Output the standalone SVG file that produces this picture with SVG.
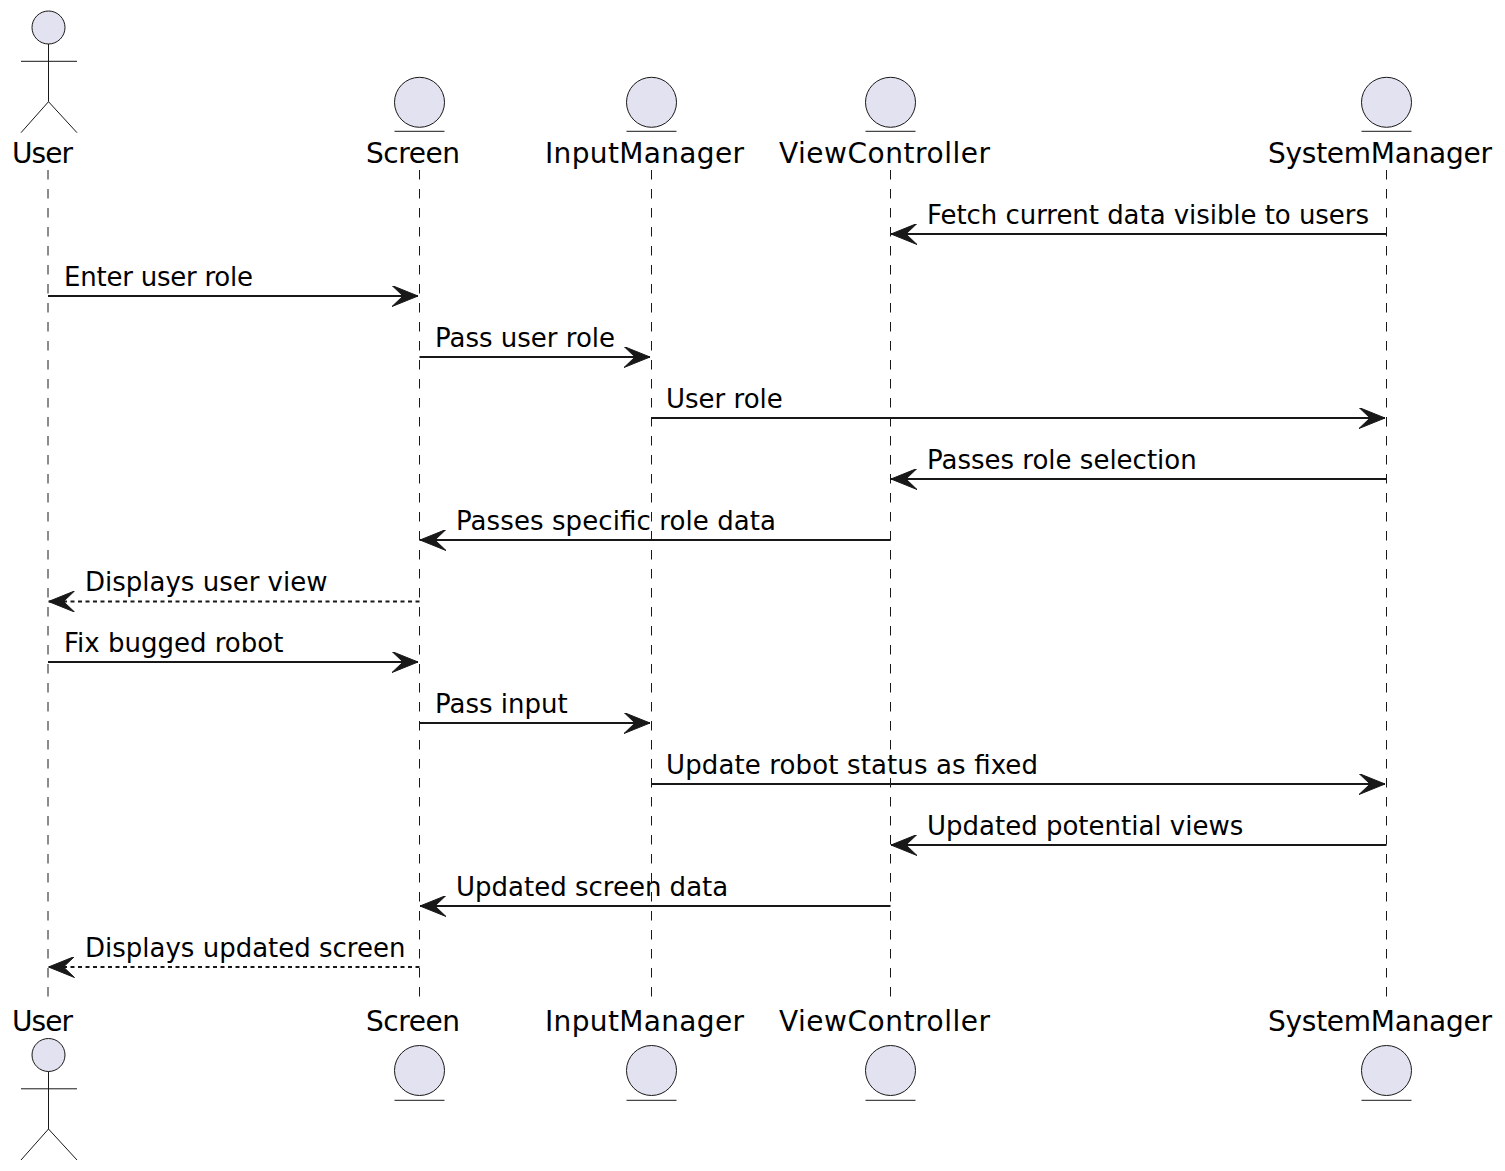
<svg xmlns="http://www.w3.org/2000/svg" width="1505" height="1171" viewBox="0 0 1505 1171">
<style>
.bg{fill:#FFFFFF}
.part{fill:#E2E2F0;stroke:#181818;stroke-width:1}
.stick{fill:none;stroke:#181818;stroke-width:1}
.life{stroke:#181818;stroke-width:1;stroke-dasharray:9.5,9.5;fill:none}
.pl{font-family:"DejaVu Sans","Liberation Sans",sans-serif;font-size:28px;fill:#000000;text-anchor:middle}
.ml{font-family:"DejaVu Sans","Liberation Sans",sans-serif;font-size:26px;fill:#000000}
.msg{stroke:#181818;stroke-width:1.8;fill:none;marker-end:url(#ah)}
.ret{stroke:#181818;stroke-width:1.8;fill:none;stroke-dasharray:4,3.5;marker-end:url(#ah)}
</style>
<defs>
<marker id="ah" markerUnits="userSpaceOnUse" viewBox="0 0 26 21" markerWidth="26" markerHeight="21" refX="26" refY="10.5" orient="auto">
<path d="M0,0 L26,10.5 L0,21 L11,10.5 Z" fill="#181818" stroke="#181818" stroke-width="1" stroke-dasharray="none"/>
</marker>
</defs>
<rect class="bg" x="0" y="0" width="1505" height="1171"/>

<g id="lifelines">
<line class="life" x1="48" y1="170" x2="48" y2="1004"/>
<line class="life" x1="419.5" y1="170" x2="419.5" y2="1004"/>
<line class="life" x1="651.5" y1="170" x2="651.5" y2="1004"/>
<line class="life" x1="890.5" y1="170" x2="890.5" y2="1004"/>
<line class="life" x1="1386.5" y1="170" x2="1386.5" y2="1004"/>
</g>

<g id="User">
<circle class="part" cx="48.5" cy="27.5" r="16.5"/>
<path class="stick" d="M48.5,44 V101.7 M21,61.3 H77 M21,132.7 L48.5,101.7 L77,132.7"/>
<text class="pl" x="42.5" y="163" textLength="61">User</text>
<text class="pl" x="42.5" y="1031" textLength="61">User</text>
<circle class="part" cx="48.5" cy="1055" r="16.5"/>
<path class="stick" d="M48.5,1071.5 V1129 M21,1088.8 H77 M21,1160 L48.5,1129 L77,1160"/>
</g>

<g id="Screen">
<circle class="part" cx="419.5" cy="102.3" r="25"/>
<line class="stick" x1="394.5" y1="131.3" x2="444.5" y2="131.3"/>
<text class="pl" x="413" y="163" textLength="94">Screen</text>
<text class="pl" x="413" y="1031" textLength="94">Screen</text>
<circle class="part" cx="419.5" cy="1070.5" r="25"/>
<line class="stick" x1="394.5" y1="1100.3" x2="444.5" y2="1100.3"/>
</g>

<g id="InputManager">
<circle class="part" cx="651.5" cy="102.3" r="25"/>
<line class="stick" x1="626.5" y1="131.3" x2="676.5" y2="131.3"/>
<text class="pl" x="644.5" y="163" textLength="199">InputManager</text>
<text class="pl" x="644.5" y="1031" textLength="199">InputManager</text>
<circle class="part" cx="651.5" cy="1070.5" r="25"/>
<line class="stick" x1="626.5" y1="1100.3" x2="676.5" y2="1100.3"/>
</g>

<g id="ViewController">
<circle class="part" cx="890.5" cy="102.3" r="25"/>
<line class="stick" x1="865.5" y1="131.3" x2="915.5" y2="131.3"/>
<text class="pl" x="884.5" y="163" textLength="211">ViewController</text>
<text class="pl" x="884.5" y="1031" textLength="211">ViewController</text>
<circle class="part" cx="890.5" cy="1070.5" r="25"/>
<line class="stick" x1="865.5" y1="1100.3" x2="915.5" y2="1100.3"/>
</g>

<g id="SystemManager">
<circle class="part" cx="1386.5" cy="102.3" r="25"/>
<line class="stick" x1="1361.5" y1="131.3" x2="1411.5" y2="131.3"/>
<text class="pl" x="1380" y="163" textLength="224">SystemManager</text>
<text class="pl" x="1380" y="1031" textLength="224">SystemManager</text>
<circle class="part" cx="1386.5" cy="1070.5" r="25"/>
<line class="stick" x1="1361.5" y1="1100.3" x2="1411.5" y2="1100.3"/>
</g>

<g id="connectors">
<line class="msg" x1="1386.5" y1="234" x2="891" y2="234"/>
<text class="ml" x="927" y="224" textLength="442">Fetch current data visible to users</text>

<line class="msg" x1="48" y1="296" x2="418" y2="296"/>
<text class="ml" x="64" y="286" textLength="189">Enter user role</text>

<line class="msg" x1="419.5" y1="357" x2="650" y2="357"/>
<text class="ml" x="435" y="347">Pass user role</text>

<line class="msg" x1="651.5" y1="418" x2="1385" y2="418"/>
<text class="ml" x="666" y="408">User role</text>

<line class="msg" x1="1386.5" y1="479" x2="891" y2="479"/>
<text class="ml" x="927" y="469">Passes role selection</text>

<line class="msg" x1="890.5" y1="540" x2="420" y2="540"/>
<text class="ml" x="456" y="530" textLength="320">Passes specific role data</text>

<line class="ret" x1="419.5" y1="601.5" x2="48.5" y2="601.5"/>
<text class="ml" x="85" y="591">Displays user view</text>

<line class="msg" x1="48" y1="662" x2="418" y2="662"/>
<text class="ml" x="64" y="652">Fix bugged robot</text>

<line class="msg" x1="419.5" y1="723" x2="650" y2="723"/>
<text class="ml" x="435" y="713">Pass input</text>

<line class="msg" x1="651.5" y1="784" x2="1385" y2="784"/>
<text class="ml" x="666" y="774" textLength="372">Update robot status as fixed</text>

<line class="msg" x1="1386.5" y1="845" x2="891" y2="845"/>
<text class="ml" x="927" y="835">Updated potential views</text>

<line class="msg" x1="890.5" y1="906" x2="420" y2="906"/>
<text class="ml" x="456" y="896">Updated screen data</text>

<line class="ret" x1="419.5" y1="967" x2="48.5" y2="967"/>
<text class="ml" x="85" y="957">Displays updated screen</text>
</g>
</svg>
